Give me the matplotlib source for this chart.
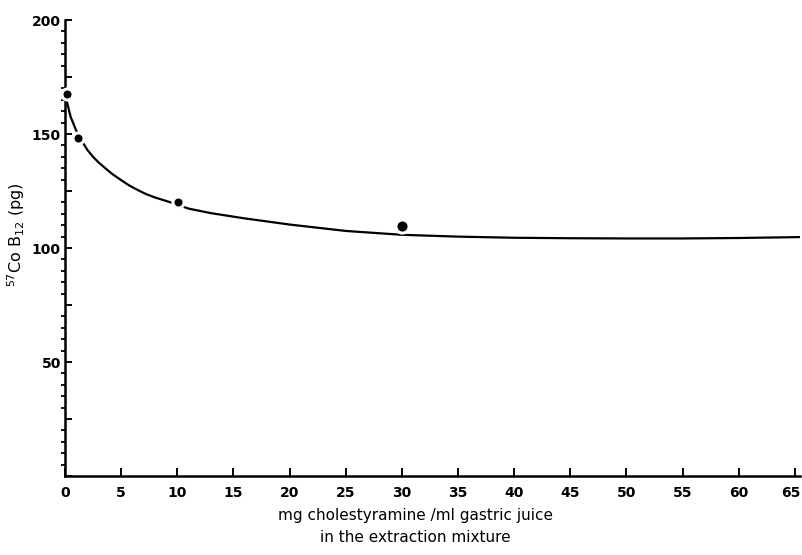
"""Binding of 57Co B12 vs cholestyramine concentration in the extraction mixture."""
import matplotlib
matplotlib.use("Agg")
import matplotlib.pyplot as plt
import matplotlib.transforms as mtransforms
from matplotlib.ticker import MultipleLocator, FuncFormatter

# measured points
point_x = [0.15, 1.2, 10.1, 30.0]
point_y = [167.5, 148.4, 120.0, 109.8]
point_size = [8.0, 8.0, 8.0, 9.5]

# fitted curve
curve_x = [0.15, 0.5, 1.0, 1.5, 2.0, 2.5, 3.0, 3.5, 4.2, 5.0, 5.7, 6.5, 7.2,
           8.0, 9.5, 11, 13, 16, 20, 25, 30, 35, 40, 45, 50, 55, 60, 65.4]
curve_y = [164.6, 157.6, 151.5, 147.0, 143.0, 140.0, 137.5, 135.4, 132.5, 129.8,
           127.5, 125.4, 123.7, 122.2, 119.9, 117.3, 115.3, 113.0, 110.3, 107.5,
           105.8, 105.0, 104.5, 104.3, 104.2, 104.2, 104.4, 104.8]

x_ticks = list(range(0, 66, 5))

plt.rcParams["font.family"] = ["DejaVu Sans"]

fig = plt.figure(figsize=(8.02, 5.55), dpi=100)
ax = fig.add_axes([0.081, 0.1423, 0.9165, 0.8216])

ax.plot(curve_x, curve_y, color="black", lw=1.6, solid_capstyle="round",
        solid_joinstyle="round", zorder=2)

# white edge on the dots leaves the little gaps in the curve
for x, y, s in zip(point_x, point_y, point_size):
    ax.plot([x], [y], "o", color="black", ms=s, mec="white", mew=2.2,
            clip_on=False, zorder=4)

ax.set_xlim(0, 65.45)
ax.set_ylim(0, 200)

for side in ("top", "right"):
    ax.spines[side].set_visible(False)
for side in ("left", "bottom"):
    ax.spines[side].set_linewidth(1.8)

ax.set_xticks(x_ticks)
ax.tick_params(axis="x", direction="in", length=6, width=1.4, pad=7,
               labelsize=10)
ax.yaxis.set_major_locator(MultipleLocator(25))
ax.yaxis.set_minor_locator(MultipleLocator(5))
ax.yaxis.set_major_formatter(FuncFormatter(lambda v, p: f"{int(v)}" if v % 50 == 0 and v > 0 else ""))
ax.tick_params(axis="y", which="major", direction="in", length=5, width=1.4,
               pad=3, labelsize=10)
ax.tick_params(axis="y", which="minor", direction="out", length=3, width=1.3)

for lab in ax.get_xticklabels() + ax.get_yticklabels():
    lab.set_fontweight("bold")

# last x label sits right at the figure edge, nudge it in a little
last = ax.get_xticklabels()[-1]
last.set_transform(last.get_transform() + mtransforms.ScaledTranslation(-4 / 100, 0, fig.dpi_scale_trans))

ax.set_ylabel(r"$^{57}$Co B$_{12}$ (pg)", fontsize=11.5)
ax.yaxis.set_label_coords(-0.052, 0.53)

fig.text(0.518, 0.052, "mg cholestyramine /ml gastric juice\nin the extraction mixture",
         ha="center", va="center", fontsize=11, linespacing=1.6)

fig.savefig("out.png", dpi=100)
